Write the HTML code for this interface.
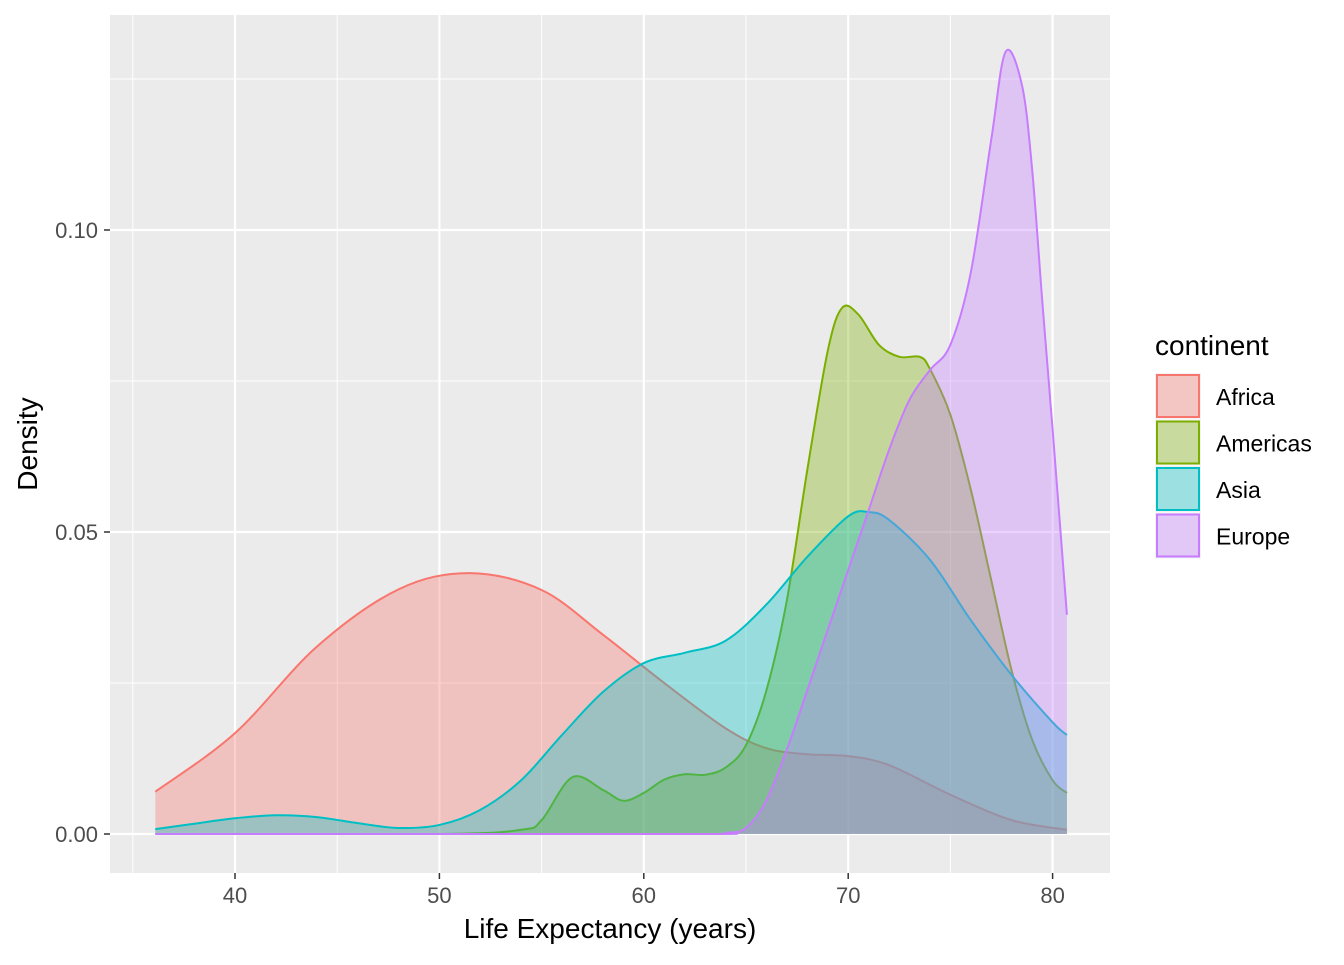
<!DOCTYPE html>
<html><head><meta charset="utf-8"><style>
body{margin:0;background:#fff;}
svg text{font-family:"Liberation Sans",sans-serif;}
</style></head><body>
<svg id="chart" width="1344" height="960">
<rect x="110" y="15" width="1000" height="858" fill="#EBEBEB"/>
<g id="grid"></g><g id="series"></g><g id="axes"></g>
<text x="610" y="938" font-size="28" text-anchor="middle" fill="#000">Life Expectancy (years)</text>
<text transform="translate(37,444) rotate(-90)" font-size="28" text-anchor="middle" fill="#000">Density</text>
<text x="1155" y="355" font-size="28" fill="#000">continent</text>
<g id="legend"></g>
</svg>
<script>
const continents=["Africa","Americas","Asia","Europe"];
const colors=["#F8766D","#7CAE00","#00BFC4","#C77CFF"];
const xTicks=[40,50,60,70,80];
const yTicks=[0,0.05,0.10];
const yTickLabels=["0.00","0.05","0.10"];
const africaX=[36.1,40,44,48,51.5,55,58,61,64,66,68,70,72,75,78,80.7];
const africaY=[0.007,0.0167,0.031,0.0405,0.0432,0.0404,0.033,0.025,0.0175,0.0142,0.0132,0.0129,0.0114,0.0065,0.0023,0.0007];
const americasX=[36.1,50,54,55,56.5,58,59,60,61,62,63,64,65,66,67,68,69,69.7,70.5,71.5,72.5,73.5,74,75,76,77,78,79,80,80.7];
const americasY=[0,0,0.0007,0.0023,0.0094,0.0073,0.0055,0.0068,0.009,0.0099,0.0098,0.011,0.0147,0.0238,0.0387,0.0603,0.080,0.0871,0.086,0.081,0.079,0.079,0.077,0.0694,0.057,0.042,0.027,0.0156,0.0089,0.0068];
const asiaX=[36.1,38,40,42,44,46,48,50,52,54,56,58,60,62,64,66,68,70,71,72,74,76,78,80,80.7];
const asiaY=[0.0008,0.0017,0.0026,0.0031,0.0028,0.0018,0.001,0.0015,0.004,0.0089,0.0164,0.0235,0.0283,0.030,0.032,0.038,0.0459,0.0526,0.0533,0.052,0.0454,0.0354,0.0263,0.0185,0.0164];
const europeX=[36.1,62,64,65,66,67,68,69,70,71,72,73,74,75,76,77,77.7,78.5,79,79.5,80,80.7];
const europeY=[0,0,0.0002,0.001,0.0056,0.014,0.0238,0.0338,0.0437,0.0536,0.0636,0.0719,0.0768,0.081,0.093,0.115,0.1295,0.124,0.11,0.088,0.067,0.0363];
const seriesX=[africaX,americasX,asiaX,europeX], seriesY=[africaY,americasY,asiaY,europeY];
const sx=v=>235+(v-40)*20.44, sy=v=>834-v*6040;
const NS="http://www.w3.org/2000/svg";
function mk(tag,attrs,parent){const e=document.createElementNS(NS,tag);for(const k in attrs)e.setAttribute(k,attrs[k]);parent.appendChild(e);return e;}
const grid=document.getElementById('grid');
[35,45,55,65,75].forEach(v=>{const l=mk('line',{x1:sx(v),x2:sx(v),y1:15,y2:873,stroke:'#fff','stroke-width':1},grid);

});
[0.025,0.075,0.125].forEach(v=>{const l=mk('line',{x1:110,x2:1110,y1:sy(v),y2:sy(v),stroke:'#fff','stroke-width':1},grid);

});
xTicks.forEach(v=>{const l=mk('line',{x1:sx(v),x2:sx(v),y1:15,y2:873,stroke:'#fff','stroke-width':2.2},grid);

});
yTicks.forEach(v=>{const l=mk('line',{x1:110,x2:1110,y1:sy(v),y2:sy(v),stroke:'#fff','stroke-width':2.2},grid);

});
function smooth(pts){let d=`M${pts[0][0]},${pts[0][1]}`;
for(let i=0;i<pts.length-1;i++){const p0=pts[Math.max(0,i-1)],p1=pts[i],p2=pts[i+1],p3=pts[Math.min(pts.length-1,i+2)];
let c1y=p1[1]+(p2[1]-p0[1])/6, c2y=p2[1]-(p3[1]-p1[1])/6;
const lo=834;c1y=Math.min(c1y,lo);c2y=Math.min(c2y,lo);
d+=` C${p1[0]+(p2[0]-p0[0])/6},${c1y} ${p2[0]-(p3[0]-p1[0])/6},${c2y} ${p2[0]},${p2[1]}`;}
return d;}
const sg=document.getElementById('series');
continents.forEach((c,i)=>{const pts=seriesX[i].map((x,j)=>[sx(x),sy(seriesY[i][j])]);
const line=smooth(pts);const x0=pts[0][0],x1=pts[pts.length-1][0];
const a=mk('path',{d:line+` L${x1},${sy(0)} L${x0},${sy(0)} Z`,fill:colors[i],'fill-opacity':0.35,stroke:'none'},sg);


const l=mk('path',{d:line,fill:'none',stroke:colors[i],'stroke-width':2},sg);

});
const ax=document.getElementById('axes');
xTicks.forEach(v=>{mk('line',{x1:sx(v),x2:sx(v),y1:873,y2:879,stroke:'#333','stroke-width':1.5},ax);
const t=mk('text',{x:sx(v),y:903,'font-size':22,'text-anchor':'middle',fill:'#4D4D4D'},ax);t.textContent=v;

});
yTicks.forEach((v,i)=>{mk('line',{x1:104,x2:110,y1:sy(v),y2:sy(v),stroke:'#333','stroke-width':1.5},ax);
const t=mk('text',{x:98,y:sy(v)+8,'font-size':22,'text-anchor':'end',fill:'#4D4D4D'},ax);t.textContent=yTickLabels[i];

});
const lg=document.getElementById('legend');
continents.forEach((c,i)=>{const y=373+i*46.5;
mk('rect',{x:1155,y:y,width:46,height:46,fill:'#F2F2F2'},lg);
const r=mk('rect',{x:1157,y:y+2,width:42,height:42,fill:colors[i],'fill-opacity':0.35,stroke:colors[i],'stroke-width':2},lg);


const t=mk('text',{x:1216,y:y+32,'font-size':23,fill:'#000'},lg);t.textContent=c;

});
</script>
</body></html>
